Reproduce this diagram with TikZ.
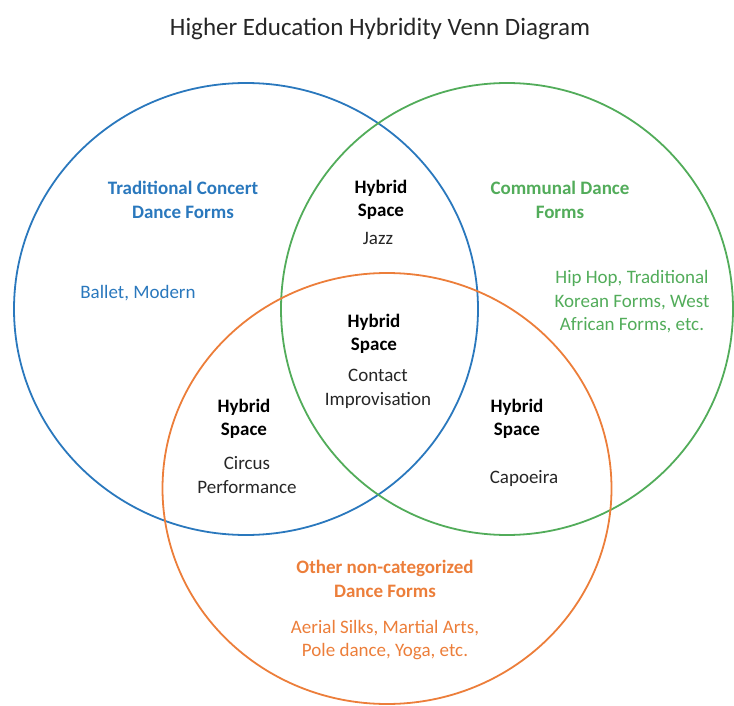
\documentclass[tikz,border=0pt]{standalone}
\usepackage{fontspec}
\setmainfont{Carlito}
\definecolor{setblue}{HTML}{2A78BD}
\definecolor{setgreen}{HTML}{52AC5A}
\definecolor{setorange}{HTML}{EC7E3A}
\definecolor{inkgray}{HTML}{262626}
\begin{document}
\begin{tikzpicture}[x=1pt,y=-1pt,
  ring/.style={line width=1.8pt},
  label/.style={align=center,inner sep=0pt,font=\fontsize{19}{23.5}\selectfont},
  head/.style={label,font=\fontsize{19}{23.5}\selectfont\bfseries},
  hybrid/.style={head,text=black},
  item/.style={label,text=inkgray}]
\useasboundingbox (0,0) rectangle (734,706);

% title
\node[font=\fontsize{25}{30}\selectfont,text=inkgray] (title) at (380,29) {Higher Education Hybridity Venn Diagram};

% the three sets
\draw[ring,setblue]   (246,309) ellipse [x radius=232,y radius=226];
\draw[ring,setgreen]  (507,309) ellipse [x radius=226,y radius=226];
\draw[ring,setorange] (387,488.5) ellipse [x radius=224.5,y radius=215.5];

% traditional concert forms
\node[head,text=setblue] (tradhead) at (183,200) {Traditional Concert\\Dance Forms};
\node[label,text=setblue] (tradlist) at (138,293) {Ballet, Modern};

% communal forms
\node[head,text=setgreen] (commhead) at (560,200) {Communal Dance\\Forms};
\node[label,text=setgreen] (commlist) at (632,302) {Hip Hop, Traditional\\Korean Forms, West\\African Forms, etc.};

% other forms
\node[head,text=setorange] (otherhead) at (385,579) {Other non-categorized\\Dance Forms};
\node[label,text=setorange] (otherlist) at (385,640) {Aerial Silks, Martial Arts,\\Pole dance, Yoga, etc.};

% hybrid spaces
\node[hybrid] (hjazz) at (381,200) {Hybrid\\Space};
\node[item] (jazz) at (378,238) {Jazz};

\node[hybrid] (hcontact) at (374,334) {Hybrid\\Space};
\node[item] (contact) at (378,389) {Contact\\Improvisation};

\node[hybrid] (hcircus) at (244,419) {Hybrid\\Space};
\node[item] (circus) at (247,475) {Circus\\Performance};

\node[hybrid] (hcapoeira) at (517,419) {Hybrid\\Space};
\node[item] (capoeira) at (524,478) {Capoeira};
\end{tikzpicture}
\end{document}
